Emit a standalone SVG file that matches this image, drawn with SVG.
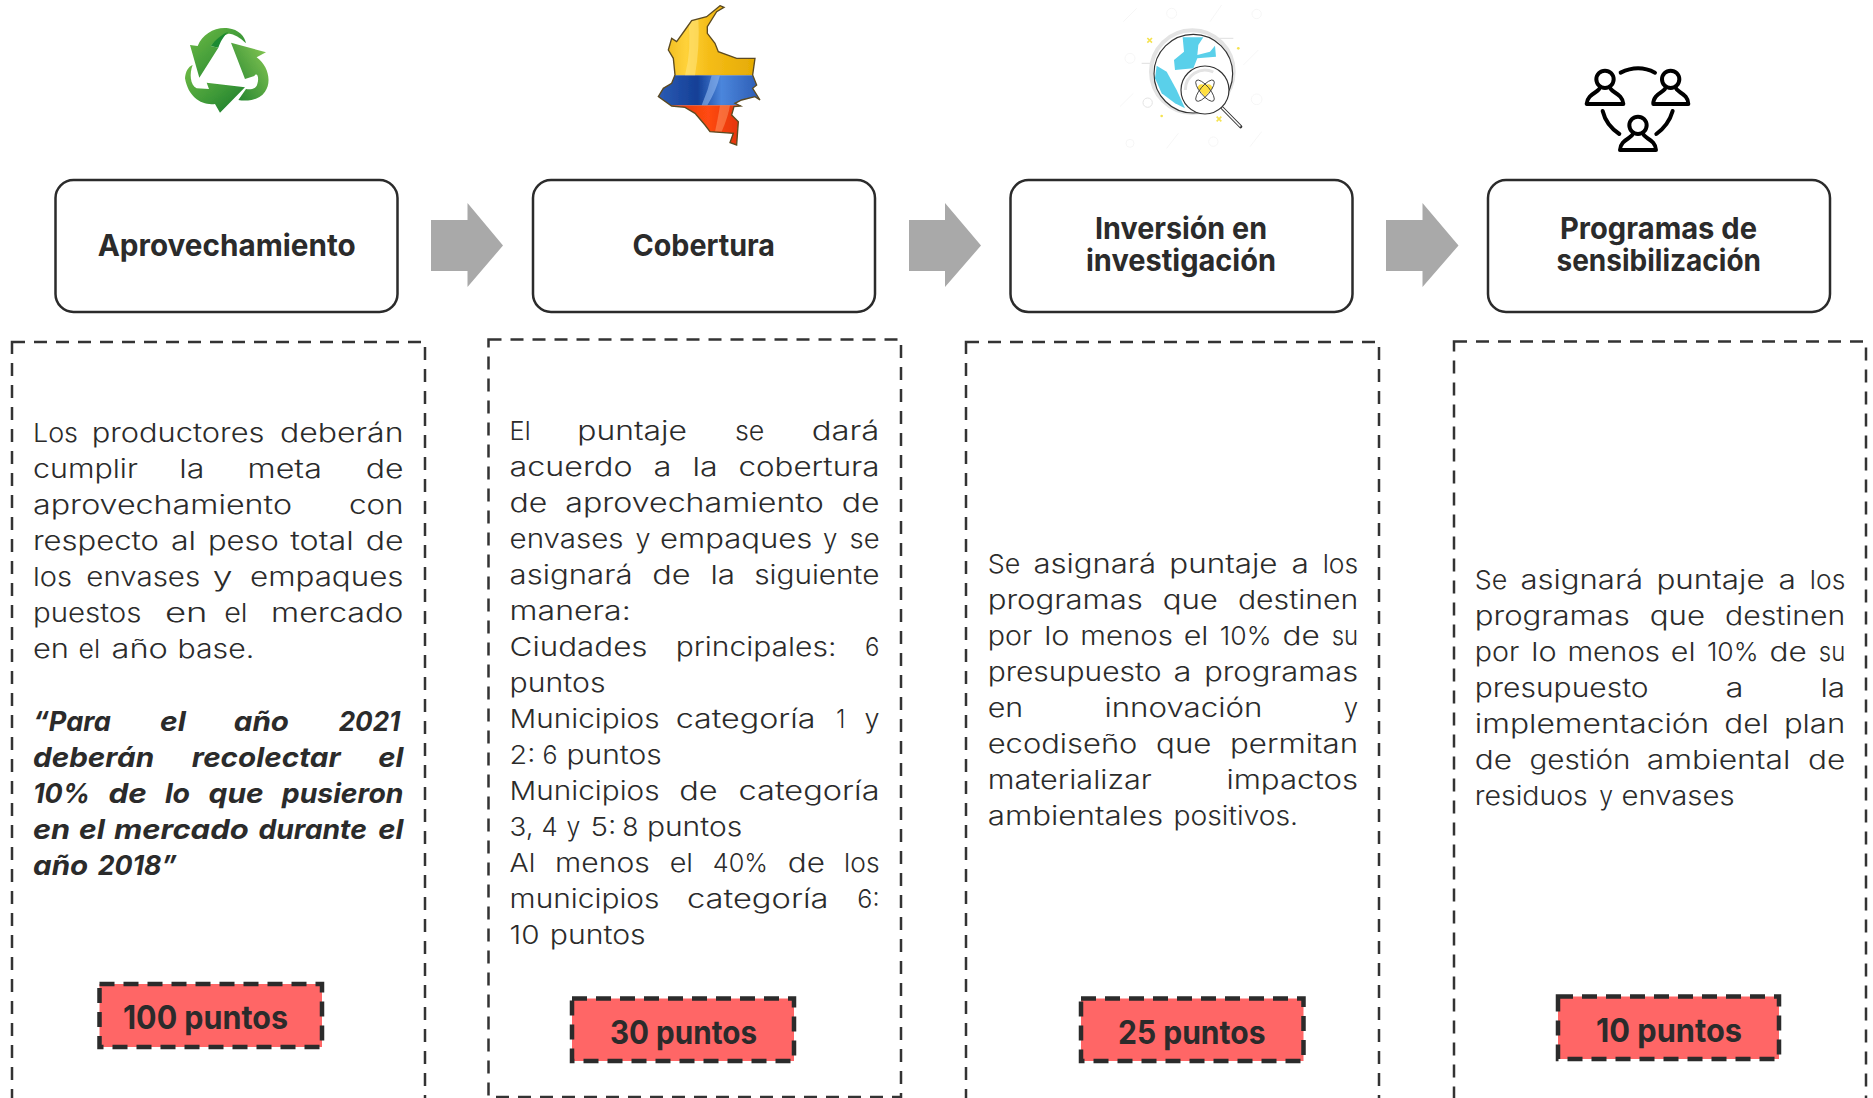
<svg xmlns="http://www.w3.org/2000/svg" width="1873" height="1098" viewBox="0 0 1873 1098">
<style>
text{font-family:"Inter","Liberation Sans",sans-serif;fill:#2b2b2b}
.h{font-size:30px;font-weight:700;text-anchor:start;transform:translateY(1px)}
.b{font-size:26px;font-weight:300;transform:translateY(-1px)}
.i{font-size:27px;font-weight:700;font-style:italic}
.p{font-size:32px;font-weight:700}
.card{fill:#fff;stroke:#2b2b2b;stroke-width:2.5}
.dash{fill:none;stroke:#333;stroke-width:2.5;stroke-dasharray:13 9}
.badge{fill:#ff6666;stroke:#2b2b2b;stroke-width:4.5;stroke-dasharray:15 9}
.arrow{fill:#a9a9a9}
.ppl{fill:none;stroke:#000;stroke-width:12;stroke-linecap:round;stroke-linejoin:round}
</style>
<defs>
<filter id="soft" x="-5%" y="-5%" width="110%" height="110%"><feGaussianBlur stdDeviation="1.500"/></filter>
<linearGradient id="gr" x1="0" y1="0" x2="1" y2="1"><stop offset="0" stop-color="#6fbb45"/><stop offset=".55" stop-color="#3f9a38"/><stop offset="1" stop-color="#14782a"/></linearGradient>
<linearGradient id="gr2" x1="1" y1="0" x2="0" y2="1"><stop offset="0" stop-color="#8ccb55"/><stop offset="1" stop-color="#1c7f2d"/></linearGradient>
<linearGradient id="fy" x1="0" y1="0" x2="1" y2="0"><stop offset="0" stop-color="#e9b010"/><stop offset=".3" stop-color="#ffd23a"/><stop offset=".5" stop-color="#f5bd18"/><stop offset="1" stop-color="#e2a800"/></linearGradient>
<linearGradient id="fb" x1="0" y1="0" x2="1" y2="0"><stop offset="0" stop-color="#2f5fb8"/><stop offset=".4" stop-color="#143f96"/><stop offset=".62" stop-color="#4b86dc"/><stop offset="1" stop-color="#2a58b0"/></linearGradient>
<linearGradient id="fr" x1="0" y1="0" x2="1" y2="0"><stop offset="0" stop-color="#d62a08"/><stop offset=".5" stop-color="#ff4a12"/><stop offset="1" stop-color="#cf2400"/></linearGradient>
<clipPath id="col"><path d="M300 17L312 22L290 35L262 80L262 100L285 130L295 155L350 175L405 175L398 225L410 255L398 265L420 300L405 290L365 300L345 310L362 318L342 320L335 345L355 365L350 435L330 428L340 400L270 395L255 375L225 340L195 322L155 318L115 290L130 265L155 250L165 225L160 175L145 150L155 115L170 125L195 90L215 62L260 50Z"/></clipPath>
</defs>

<g id="connectors">
<path class="arrow" d="M431 220H467.5V203L503 245.500L467.5 287V271H431Z"/>
<path class="arrow" d="M909 220H945V203L981 245.500L945 287V271H909Z"/>
<path class="arrow" d="M1386 220H1422.500V203L1458.500 245.500L1422.500 287V271H1386Z"/>
</g>

<g id="icon-reciclaje" transform="translate(160 10) scale(.3333)" filter="url(#soft)">
<path fill="url(#gr)" d="M118 203L90 105L113 108C128 72 165 50 205 55C235 58 255 80 258 100C240 82 215 68 203 72C185 78 165 95 152 108L175 113Z"/>
<path fill="#1f8a30" d="M175 113L152 108C165 92 185 72 205 66C190 78 180 98 175 113Z"/>
<path fill="url(#gr2)" d="M213 98L318 127L290 142C325 168 336 215 315 245C300 268 265 275 235 270L258 237C275 240 290 235 292 222C298 205 292 185 283 198L255 207Z"/>
<path fill="url(#gr)" d="M255 232L180 308L165 282C125 287 85 262 75 205C76 185 85 170 98 165C88 190 90 225 110 235L147 237L140 218Z"/>
</g>

<g id="icon-colombia" transform="translate(620 0) scale(.3333)" filter="url(#soft)">
<g clip-path="url(#col)">
<rect x="100" y="0" width="330" height="226" fill="url(#fy)"/>
<rect x="100" y="226" width="330" height="90" fill="url(#fb)"/>
<rect x="100" y="316" width="330" height="130" fill="url(#fr)"/>
<path d="M275 226Q265 270 245 316L262 316Q290 270 300 226Z" fill="#8fb8f0" opacity=".6"/>
<path d="M205 60Q215 150 195 226L225 226Q240 140 235 55Z" fill="#ffe680" opacity=".55"/>
<path d="M300 316Q295 350 285 395L305 395Q325 350 330 316Z" fill="#ff9a66" opacity=".5"/>
</g>
<path fill="none" stroke="#5c4a20" stroke-width="4" d="M300 17L312 22L290 35L262 80L262 100L285 130L295 155L350 175L405 175L398 225L410 255L398 265L420 300L405 290L365 300L345 310L362 318L342 320L335 345L355 365L350 435L330 428L340 400L270 395L255 375L225 340L195 322L155 318L115 290L130 265L155 250L165 225L160 175L145 150L155 115L170 125L195 90L215 62L260 50Z"/>
<path d="M160 226H398M160 316H345" stroke="#000" stroke-opacity=".2" stroke-width="1" fill="none"/>
</g>

<g id="icon-investigacion" transform="translate(1110 0) scale(.3333)" filter="url(#soft)">
<g fill="none" stroke="#f6f6f6" stroke-width="3">
<circle cx="440" cy="298" r="16"/><circle cx="60" cy="175" r="15"/><circle cx="440" cy="42" r="14"/><circle cx="185" cy="40" r="15"/><circle cx="60" cy="430" r="12"/><circle cx="310" cy="425" r="14"/>
<path d="M40 65L80 25M300 65L335 15M400 195L445 150M30 320L70 280M170 445L205 400M420 440L455 395"/>
</g>
<circle cx="247" cy="215" r="124" fill="none" stroke="#e3e3e3" stroke-width="12"/>
<circle cx="250" cy="221" r="118" fill="#fff" stroke="#333" stroke-width="3.500"/>
<path fill="#5ad0ea" d="M218 112L280 112L265 135L262 165L300 155L315 137L318 170L262 175L250 205L195 210L192 180L222 155Z"/>
<path fill="#5ad0ea" d="M140 197L170 215L200 270L225 325L195 310L155 280L135 235Z"/>
<path d="M325 115H370M95 190H135" stroke="#e5e5e5" stroke-width="4" fill="none"/>
<path d="M335 322L392 380" stroke="#333" stroke-width="10" stroke-linecap="round"/>
<path d="M337 324L390 378" stroke="#fff" stroke-width="4.500" stroke-linecap="round"/>
<circle cx="285" cy="270" r="72" fill="#fff" stroke="#333" stroke-width="3.500"/>
<path d="M226 270A59 59 0 0 1 310 216" fill="none" stroke="#e3e3e3" stroke-width="9"/>
<path fill="#ffdf3f" d="M285 290L263 265Q265 248 285 255Q305 248 307 265Z"/>
<g fill="none" stroke="#333" stroke-width="2.500"><ellipse cx="285" cy="272" rx="14" ry="40" transform="rotate(40 285 272)"/><ellipse cx="285" cy="272" rx="14" ry="40" transform="rotate(-40 285 272)"/></g>
<path d="M112 114L126 128M126 114L112 128M320 350L334 364M334 350L320 364" stroke="#f5e350" stroke-width="5" fill="none"/>
<circle cx="385" cy="145" r="4" fill="#f5e350"/><circle cx="155" cy="348" r="4" fill="#f5e350"/>
<circle cx="113" cy="308" r="14" fill="none" stroke="#e3e3e3" stroke-width="3"/>
</g>

<g id="icon-programas" transform="translate(1570 50) scale(.3333)">
<g class="ppl">
<circle cx="105" cy="88" r="26"/><path d="M90 112C88 128 52 130 50 162H160C158 130 122 128 120 112"/>
<circle cx="302" cy="88" r="26"/><path d="M287 112C285 128 249 130 250 162H355C355 130 319 128 317 112"/>
<circle cx="204" cy="226" r="26"/><path d="M189 250C187 266 151 268 150 300H258C257 268 221 266 219 250"/>
<path d="M152 68Q205 42 255 68M98 183Q108 225 148 252M308 183Q296 225 259 252"/>
</g>
</g>

<g id="n1">
<rect class="card" x="55.500" y="180" width="342" height="132" rx="18"/>
<text class="h" x="97.700" y="254.500" textLength="258" lengthAdjust="spacingAndGlyphs">Aprovechamiento</text>
<rect class="dash" x="12" y="342" width="413" height="770"/>
<text class="b" y="443"><tspan x="33" textLength="45" lengthAdjust="spacingAndGlyphs">Los</tspan> <tspan x="91.700" textLength="172.700" lengthAdjust="spacingAndGlyphs">productores</tspan> <tspan x="280" textLength="123.500" lengthAdjust="spacingAndGlyphs">deberán</tspan></text>
<text class="b" y="479"><tspan x="33" textLength="104.900" lengthAdjust="spacingAndGlyphs">cumplir</tspan> <tspan x="179.300" textLength="25.200" lengthAdjust="spacingAndGlyphs">la</tspan> <tspan x="247.600" textLength="74.300" lengthAdjust="spacingAndGlyphs">meta</tspan> <tspan x="365.700" textLength="37.800" lengthAdjust="spacingAndGlyphs">de</tspan></text>
<text class="b" y="515"><tspan x="33" textLength="259" lengthAdjust="spacingAndGlyphs">aprovechamiento</tspan> <tspan x="348.900" textLength="54.600" lengthAdjust="spacingAndGlyphs">con</tspan></text>
<text class="b" y="551"><tspan x="33" textLength="125.900" lengthAdjust="spacingAndGlyphs">respecto</tspan> <tspan x="170.900" textLength="25.200" lengthAdjust="spacingAndGlyphs">al</tspan> <tspan x="208" textLength="70.700" lengthAdjust="spacingAndGlyphs">peso</tspan> <tspan x="290.200" textLength="63.500" lengthAdjust="spacingAndGlyphs">total</tspan> <tspan x="365.700" textLength="37.800" lengthAdjust="spacingAndGlyphs">de</tspan></text>
<text class="b" y="587"><tspan x="33" textLength="39" lengthAdjust="spacingAndGlyphs">los</tspan> <tspan x="86.300" textLength="113.900" lengthAdjust="spacingAndGlyphs">envases</tspan> <tspan x="212.800" textLength="19.800" lengthAdjust="spacingAndGlyphs">y</tspan> <tspan x="250" textLength="153.500" lengthAdjust="spacingAndGlyphs">empaques</tspan></text>
<text class="b" y="623"><tspan x="33" textLength="108.500" lengthAdjust="spacingAndGlyphs">puestos</tspan> <tspan x="164.900" textLength="42.600" lengthAdjust="spacingAndGlyphs">en</tspan> <tspan x="224.200" textLength="23.400" lengthAdjust="spacingAndGlyphs">el</tspan> <tspan x="271" textLength="132.500" lengthAdjust="spacingAndGlyphs">mercado</tspan></text>
<text class="b" y="659"><tspan x="33" textLength="36" lengthAdjust="spacingAndGlyphs">en</tspan> <tspan x="78.500" textLength="21.600" lengthAdjust="spacingAndGlyphs">el</tspan> <tspan x="111.500" textLength="56.400" lengthAdjust="spacingAndGlyphs">año</tspan> <tspan x="177.500" textLength="76.700" lengthAdjust="spacingAndGlyphs">base.</tspan></text>
<text class="i" y="731"><tspan x="33" textLength="77.900" lengthAdjust="spacingAndGlyphs">“Para</tspan> <tspan x="160" textLength="25.800" lengthAdjust="spacingAndGlyphs">el</tspan> <tspan x="233.800" textLength="55.200" lengthAdjust="spacingAndGlyphs">año</tspan> <tspan x="338.700" textLength="61.700" lengthAdjust="spacingAndGlyphs">2021</tspan></text>
<text class="i" y="767"><tspan x="33" textLength="121.100" lengthAdjust="spacingAndGlyphs">deberán</tspan> <tspan x="191.800" textLength="148.700" lengthAdjust="spacingAndGlyphs">recolectar</tspan> <tspan x="378.300" textLength="25.200" lengthAdjust="spacingAndGlyphs">el</tspan></text>
<text class="i" y="803"><tspan x="33" textLength="57" lengthAdjust="spacingAndGlyphs">10%</tspan> <tspan x="108.500" textLength="38.400" lengthAdjust="spacingAndGlyphs">de</tspan> <tspan x="164.900" textLength="25.200" lengthAdjust="spacingAndGlyphs">lo</tspan> <tspan x="208.600" textLength="55.200" lengthAdjust="spacingAndGlyphs">que</tspan> <tspan x="281.800" textLength="121.700" lengthAdjust="spacingAndGlyphs">pusieron</tspan></text>
<text class="i" y="839"><tspan x="33" textLength="37.200" lengthAdjust="spacingAndGlyphs">en</tspan> <tspan x="79.100" textLength="25.800" lengthAdjust="spacingAndGlyphs">el</tspan> <tspan x="113.900" textLength="134.900" lengthAdjust="spacingAndGlyphs">mercado</tspan> <tspan x="258.400" textLength="108.500" lengthAdjust="spacingAndGlyphs">durante</tspan> <tspan x="378.300" textLength="25.200" lengthAdjust="spacingAndGlyphs">el</tspan></text>
<text class="i" y="875"><tspan x="33" textLength="55.200" lengthAdjust="spacingAndGlyphs">año</tspan> <tspan x="97.700" textLength="79.100" lengthAdjust="spacingAndGlyphs">2018”</tspan></text>
<rect class="badge" x="99.500" y="984" width="222.500" height="63"/>
<text class="p" x="123" y="1028.500" textLength="165" lengthAdjust="spacingAndGlyphs">100 puntos</text>
</g>

<g id="n2">
<rect class="card" x="533" y="180" width="342" height="132" rx="18"/>
<text class="h" x="632.500" y="254.500" textLength="142.500" lengthAdjust="spacingAndGlyphs">Cobertura</text>
<rect class="dash" x="488.500" y="339.500" width="412.500" height="757.500"/>
<text class="b" y="441"><tspan x="509.600" textLength="21" lengthAdjust="spacingAndGlyphs">El</tspan> <tspan x="577.300" textLength="109.700" lengthAdjust="spacingAndGlyphs">puntaje</tspan> <tspan x="735" textLength="29.400" lengthAdjust="spacingAndGlyphs">se</tspan> <tspan x="811.700" textLength="67.700" lengthAdjust="spacingAndGlyphs">dará</tspan></text>
<text class="b" y="477"><tspan x="509.600" textLength="122.900" lengthAdjust="spacingAndGlyphs">acuerdo</tspan> <tspan x="653.500" textLength="18" lengthAdjust="spacingAndGlyphs">a</tspan> <tspan x="692.400" textLength="25.200" lengthAdjust="spacingAndGlyphs">la</tspan> <tspan x="738.600" textLength="140.900" lengthAdjust="spacingAndGlyphs">cobertura</tspan></text>
<text class="b" y="513"><tspan x="509.600" textLength="37.800" lengthAdjust="spacingAndGlyphs">de</tspan> <tspan x="565.300" textLength="258.400" lengthAdjust="spacingAndGlyphs">aprovechamiento</tspan> <tspan x="841.700" textLength="37.800" lengthAdjust="spacingAndGlyphs">de</tspan></text>
<text class="b" y="549"><tspan x="509.600" textLength="113.900" lengthAdjust="spacingAndGlyphs">envases</tspan> <tspan x="635.500" textLength="15" lengthAdjust="spacingAndGlyphs">y</tspan> <tspan x="660" textLength="152.300" lengthAdjust="spacingAndGlyphs">empaques</tspan> <tspan x="823.100" textLength="14.400" lengthAdjust="spacingAndGlyphs">y</tspan> <tspan x="849.500" textLength="30" lengthAdjust="spacingAndGlyphs">se</tspan></text>
<text class="b" y="585"><tspan x="509.600" textLength="122.900" lengthAdjust="spacingAndGlyphs">asignará</tspan> <tspan x="652.300" textLength="38.400" lengthAdjust="spacingAndGlyphs">de</tspan> <tspan x="710.400" textLength="24.600" lengthAdjust="spacingAndGlyphs">la</tspan> <tspan x="754.200" textLength="125.300" lengthAdjust="spacingAndGlyphs">siguiente</tspan></text>
<text class="b" y="621"><tspan x="509.600" textLength="121.100" lengthAdjust="spacingAndGlyphs">manera:</tspan></text>
<text class="b" y="657"><tspan x="509.600" textLength="137.900" lengthAdjust="spacingAndGlyphs">Ciudades</tspan> <tspan x="675.700" textLength="160.700" lengthAdjust="spacingAndGlyphs">principales:</tspan> <tspan x="865.100" textLength="14.400" lengthAdjust="spacingAndGlyphs">6</tspan></text>
<text class="b" y="693"><tspan x="509.600" textLength="95.900" lengthAdjust="spacingAndGlyphs">puntos</tspan></text>
<text class="b" y="729"><tspan x="509.600" textLength="149.900" lengthAdjust="spacingAndGlyphs">Municipios</tspan> <tspan x="675.700" textLength="139.700" lengthAdjust="spacingAndGlyphs">categoría</tspan> <tspan x="836.300" textLength="9" lengthAdjust="spacingAndGlyphs">1</tspan> <tspan x="864.500" textLength="15" lengthAdjust="spacingAndGlyphs">y</tspan></text>
<text class="b" y="765"><tspan x="509.600" textLength="25.800" lengthAdjust="spacingAndGlyphs">2:</tspan> <tspan x="542.600" textLength="15" lengthAdjust="spacingAndGlyphs">6</tspan> <tspan x="566.500" textLength="95.300" lengthAdjust="spacingAndGlyphs">puntos</tspan></text>
<text class="b" y="801"><tspan x="509.600" textLength="149.900" lengthAdjust="spacingAndGlyphs">Municipios</tspan> <tspan x="679.200" textLength="38.400" lengthAdjust="spacingAndGlyphs">de</tspan> <tspan x="738.600" textLength="140.900" lengthAdjust="spacingAndGlyphs">categoría</tspan></text>
<text class="b" y="837"><tspan x="509.600" textLength="24" lengthAdjust="spacingAndGlyphs">3,</tspan> <tspan x="541.400" textLength="16.200" lengthAdjust="spacingAndGlyphs">4</tspan> <tspan x="566.500" textLength="13.800" lengthAdjust="spacingAndGlyphs">y</tspan> <tspan x="590.500" textLength="25.800" lengthAdjust="spacingAndGlyphs">5:</tspan> <tspan x="622.300" textLength="16.200" lengthAdjust="spacingAndGlyphs">8</tspan> <tspan x="646.900" textLength="95.300" lengthAdjust="spacingAndGlyphs">puntos</tspan></text>
<text class="b" y="873"><tspan x="509.600" textLength="25.800" lengthAdjust="spacingAndGlyphs">Al</tspan> <tspan x="555.100" textLength="94.700" lengthAdjust="spacingAndGlyphs">menos</tspan> <tspan x="669.700" textLength="23.400" lengthAdjust="spacingAndGlyphs">el</tspan> <tspan x="712.800" textLength="55.200" lengthAdjust="spacingAndGlyphs">40%</tspan> <tspan x="787.800" textLength="37.200" lengthAdjust="spacingAndGlyphs">de</tspan> <tspan x="844.100" textLength="35.400" lengthAdjust="spacingAndGlyphs">los</tspan></text>
<text class="b" y="909"><tspan x="509.600" textLength="149.900" lengthAdjust="spacingAndGlyphs">municipios</tspan> <tspan x="687" textLength="141.500" lengthAdjust="spacingAndGlyphs">categoría</tspan> <tspan x="857.300" textLength="22.200" lengthAdjust="spacingAndGlyphs">6:</tspan></text>
<text class="b" y="945"><tspan x="509.600" textLength="30" lengthAdjust="spacingAndGlyphs">10</tspan> <tspan x="549.800" textLength="95.900" lengthAdjust="spacingAndGlyphs">puntos</tspan></text>
<rect class="badge" x="572" y="998.500" width="222" height="62.500"/>
<text class="p" x="610" y="1043.500" textLength="147" lengthAdjust="spacingAndGlyphs">30 puntos</text>
</g>

<g id="n3">
<rect class="card" x="1010.500" y="180" width="342" height="132" rx="18"/>
<text class="h" x="1095" y="238" textLength="172" lengthAdjust="spacingAndGlyphs">Inversión en</text>
<text class="h" x="1086" y="270" textLength="190" lengthAdjust="spacingAndGlyphs">investigación</text>
<rect class="dash" x="966" y="342" width="413" height="770"/>
<text class="b" y="574"><tspan x="987.700" textLength="32.500" lengthAdjust="spacingAndGlyphs">Se</tspan> <tspan x="1033.400" textLength="122.700" lengthAdjust="spacingAndGlyphs">asignará</tspan> <tspan x="1169.300" textLength="108.200" lengthAdjust="spacingAndGlyphs">puntaje</tspan> <tspan x="1291.400" textLength="17.400" lengthAdjust="spacingAndGlyphs">a</tspan> <tspan x="1322.700" textLength="35.500" lengthAdjust="spacingAndGlyphs">los</tspan></text>
<text class="b" y="610"><tspan x="987.700" textLength="155.100" lengthAdjust="spacingAndGlyphs">programas</tspan> <tspan x="1162.700" textLength="55.300" lengthAdjust="spacingAndGlyphs">que</tspan> <tspan x="1237.900" textLength="120.300" lengthAdjust="spacingAndGlyphs">destinen</tspan></text>
<text class="b" y="646"><tspan x="987.700" textLength="44.500" lengthAdjust="spacingAndGlyphs">por</tspan> <tspan x="1044.200" textLength="25.300" lengthAdjust="spacingAndGlyphs">lo</tspan> <tspan x="1080.300" textLength="92.600" lengthAdjust="spacingAndGlyphs">menos</tspan> <tspan x="1183.700" textLength="24.700" lengthAdjust="spacingAndGlyphs">el</tspan> <tspan x="1219.800" textLength="51.700" lengthAdjust="spacingAndGlyphs">10%</tspan> <tspan x="1282.400" textLength="37.300" lengthAdjust="spacingAndGlyphs">de</tspan> <tspan x="1331.700" textLength="26.500" lengthAdjust="spacingAndGlyphs">su</tspan></text>
<text class="b" y="682"><tspan x="987.700" textLength="173.800" lengthAdjust="spacingAndGlyphs">presupuesto</tspan> <tspan x="1173.500" textLength="18" lengthAdjust="spacingAndGlyphs">a</tspan> <tspan x="1204.200" textLength="153.900" lengthAdjust="spacingAndGlyphs">programas</tspan></text>
<text class="b" y="718"><tspan x="987.700" textLength="35.500" lengthAdjust="spacingAndGlyphs">en</tspan> <tspan x="1104.400" textLength="158.100" lengthAdjust="spacingAndGlyphs">innovación</tspan> <tspan x="1343.700" textLength="14.400" lengthAdjust="spacingAndGlyphs">y</tspan></text>
<text class="b" y="754"><tspan x="987.700" textLength="149.700" lengthAdjust="spacingAndGlyphs">ecodiseño</tspan> <tspan x="1156.100" textLength="55.300" lengthAdjust="spacingAndGlyphs">que</tspan> <tspan x="1230" textLength="128.100" lengthAdjust="spacingAndGlyphs">permitan</tspan></text>
<text class="b" y="790"><tspan x="987.700" textLength="164.200" lengthAdjust="spacingAndGlyphs">materializar</tspan> <tspan x="1226.400" textLength="131.700" lengthAdjust="spacingAndGlyphs">impactos</tspan></text>
<text class="b" y="826"><tspan x="987.700" textLength="175.600" lengthAdjust="spacingAndGlyphs">ambientales</tspan> <tspan x="1173.500" textLength="124.500" lengthAdjust="spacingAndGlyphs">positivos.</tspan></text>
<rect class="badge" x="1081" y="998.500" width="222.500" height="62.500"/>
<text class="p" x="1118" y="1043.500" textLength="147.500" lengthAdjust="spacingAndGlyphs">25 puntos</text>
</g>

<g id="n4">
<rect class="card" x="1488" y="180" width="342" height="132" rx="18"/>
<text class="h" x="1560" y="238" textLength="197" lengthAdjust="spacingAndGlyphs">Programas de</text>
<text class="h" x="1556.500" y="270" textLength="204.500" lengthAdjust="spacingAndGlyphs">sensibilización</text>
<rect class="dash" x="1454" y="341.500" width="412" height="770"/>
<text class="b" y="590"><tspan x="1474.800" textLength="32.500" lengthAdjust="spacingAndGlyphs">Se</tspan> <tspan x="1520.500" textLength="122.700" lengthAdjust="spacingAndGlyphs">asignará</tspan> <tspan x="1656.400" textLength="108.200" lengthAdjust="spacingAndGlyphs">puntaje</tspan> <tspan x="1778.500" textLength="17.400" lengthAdjust="spacingAndGlyphs">a</tspan> <tspan x="1809.800" textLength="35.500" lengthAdjust="spacingAndGlyphs">los</tspan></text>
<text class="b" y="626"><tspan x="1474.800" textLength="155.100" lengthAdjust="spacingAndGlyphs">programas</tspan> <tspan x="1649.800" textLength="55.300" lengthAdjust="spacingAndGlyphs">que</tspan> <tspan x="1725" textLength="120.300" lengthAdjust="spacingAndGlyphs">destinen</tspan></text>
<text class="b" y="662"><tspan x="1474.800" textLength="44.500" lengthAdjust="spacingAndGlyphs">por</tspan> <tspan x="1531.300" textLength="25.300" lengthAdjust="spacingAndGlyphs">lo</tspan> <tspan x="1567.400" textLength="92.600" lengthAdjust="spacingAndGlyphs">menos</tspan> <tspan x="1670.800" textLength="24.700" lengthAdjust="spacingAndGlyphs">el</tspan> <tspan x="1706.900" textLength="51.700" lengthAdjust="spacingAndGlyphs">10%</tspan> <tspan x="1769.500" textLength="37.300" lengthAdjust="spacingAndGlyphs">de</tspan> <tspan x="1818.800" textLength="26.500" lengthAdjust="spacingAndGlyphs">su</tspan></text>
<text class="b" y="698"><tspan x="1474.800" textLength="173.800" lengthAdjust="spacingAndGlyphs">presupuesto</tspan> <tspan x="1725.500" textLength="18" lengthAdjust="spacingAndGlyphs">a</tspan> <tspan x="1820.500" textLength="24.700" lengthAdjust="spacingAndGlyphs">la</tspan></text>
<text class="b" y="734"><tspan x="1474.800" textLength="234.500" lengthAdjust="spacingAndGlyphs">implementación</tspan> <tspan x="1724.300" textLength="44.500" lengthAdjust="spacingAndGlyphs">del</tspan> <tspan x="1783.900" textLength="61.300" lengthAdjust="spacingAndGlyphs">plan</tspan></text>
<text class="b" y="770"><tspan x="1474.800" textLength="37.300" lengthAdjust="spacingAndGlyphs">de</tspan> <tspan x="1529.500" textLength="101" lengthAdjust="spacingAndGlyphs">gestión</tspan> <tspan x="1646.800" textLength="143.700" lengthAdjust="spacingAndGlyphs">ambiental</tspan> <tspan x="1807.900" textLength="37.300" lengthAdjust="spacingAndGlyphs">de</tspan></text>
<text class="b" y="806"><tspan x="1474.800" textLength="113" lengthAdjust="spacingAndGlyphs">residuos</tspan> <tspan x="1599.300" textLength="13.800" lengthAdjust="spacingAndGlyphs">y</tspan> <tspan x="1621.500" textLength="113" lengthAdjust="spacingAndGlyphs">envases</tspan></text>
<rect class="badge" x="1558" y="996.500" width="221" height="62.500"/>
<text class="p" x="1596" y="1041.500" textLength="146" lengthAdjust="spacingAndGlyphs">10 puntos</text>
</g>
</svg>
